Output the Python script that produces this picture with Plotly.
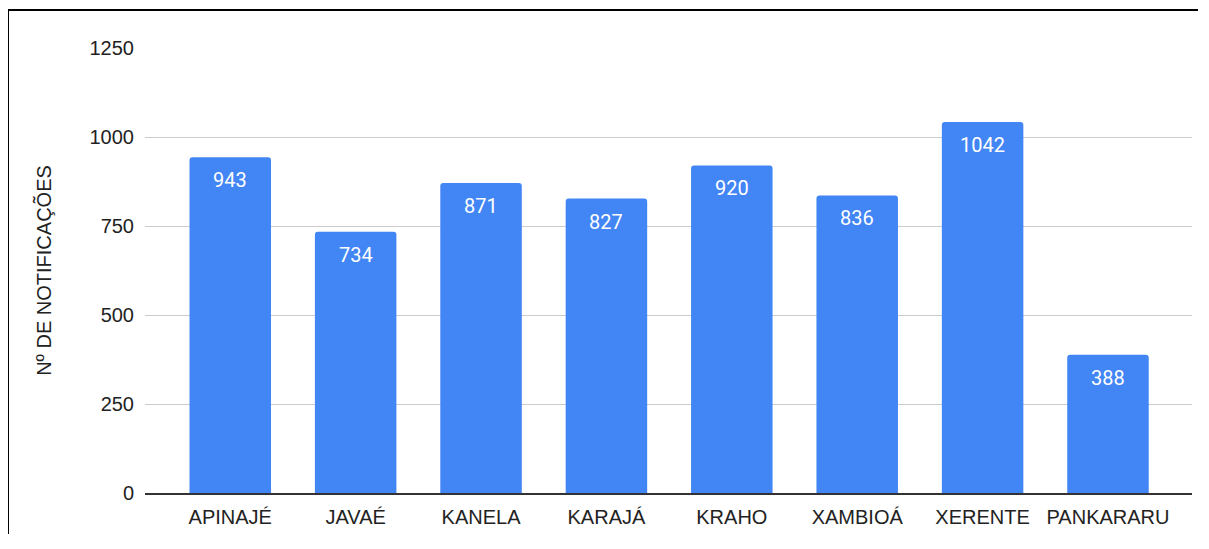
import plotly.graph_objects as go

categories = ["APINAJÉ", "JAVAÉ", "KANELA", "KARAJÁ", "KRAHO", "XAMBIOÁ", "XERENTE", "PANKARARU"]
values = [943, 734, 871, 827, 920, 836, 1042, 388]
y_ticks = [0, 250, 500, 750, 1000, 1250]
y_title = "Nº DE NOTIFICAÇÕES"

W, H = 1190, 526
ML, MR, MT, MB = 137, 6, 40, 41
pw, ph = W - ML - MR, H - MT - MB

fig = go.Figure()
fig.add_trace(go.Bar(
    x=list(range(len(categories))), y=values,
    marker=dict(color="#4285F4", line=dict(width=0), cornerradius=3),
    width=0.65, hoverinfo="x+y",
))

for i, v in enumerate(values):
    fig.add_annotation(x=i, y=v, text=str(v), showarrow=False, yanchor="middle", yshift=-23,
                       font=dict(family="Roboto", size=20, color="white"))

# outer border (left and top edges of the figure)
bx0 = (0 - ML) / pw
bx1 = (W - ML) / pw
by_top = (H - MB - 2) / ph
by_bot = (H - MB - H) / ph
fig.add_shape(type="line", xref="paper", yref="paper", x0=bx0, x1=bx1, y0=by_top, y1=by_top,
              line=dict(color="black", width=2), layer="above")
fig.add_shape(type="line", xref="paper", yref="paper", x0=bx0, x1=bx0, y0=by_bot, y1=by_top,
              line=dict(color="black", width=2), layer="above")

fig.update_layout(
    width=W, height=H,
    margin=dict(l=ML, r=MR, t=MT, b=MB),
    plot_bgcolor="white", paper_bgcolor="white",
    showlegend=False,
    font=dict(family="Liberation Sans, Arial", size=20, color="#222222"),
    xaxis=dict(
        tickmode="array", tickvals=list(range(len(categories))), ticktext=categories,
        range=[-0.68, 7.67], showgrid=False, zeroline=False,
        showline=True, linecolor="#333333", linewidth=1.5,
        ticks="", ticklabelstandoff=5, automargin=False,
        tickfont=dict(family="Liberation Sans, Arial", size=20, color="#222222"),
    ),
    yaxis=dict(
        range=[0, 1250], tickmode="array", tickvals=y_ticks,
        showgrid=True, gridcolor="#cccccc", gridwidth=1,
        zeroline=False, showline=False, ticks="", ticklabelstandoff=10, automargin=False,
        tickfont=dict(family="Liberation Sans, Arial", size=20, color="#222222"),
        title=dict(text=y_title, standoff=32,
                   font=dict(family="Liberation Sans, Arial", size=20, color="#222222")),
    ),
)

fig.write_html("out.html")
